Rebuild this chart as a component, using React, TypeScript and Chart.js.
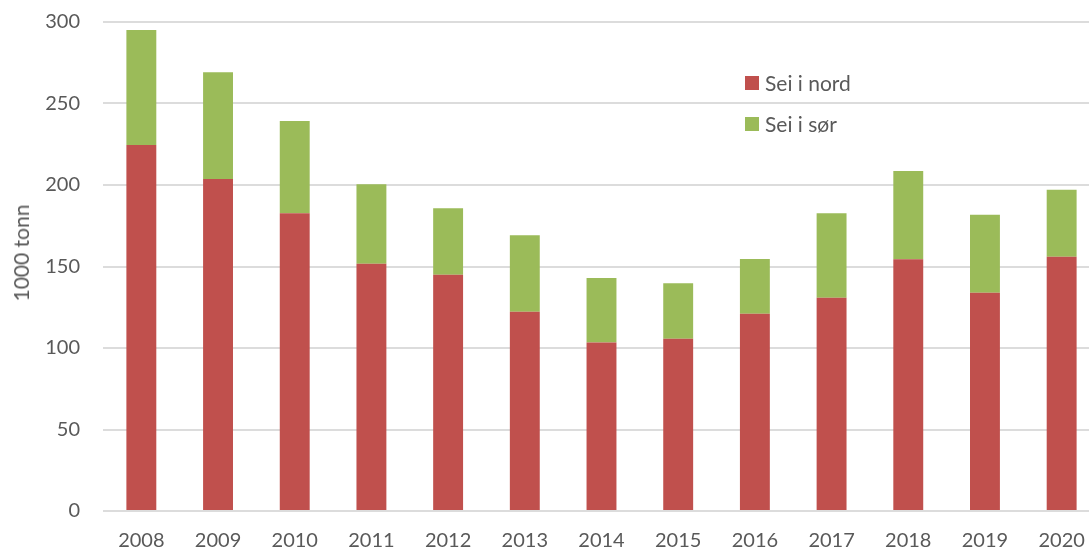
import React, { useEffect, useRef } from "react";
import { Chart, registerables } from "chart.js";

Chart.register(...registerables);

const years = ["2008", "2009", "2010", "2011", "2012", "2013", "2014", "2015", "2016", "2017", "2018", "2019", "2020"];
const seiNord = [224.5, 203.7, 182.6, 151.7, 145.0, 122.3, 103.3, 105.7, 121.0, 130.9, 154.4, 133.9, 156.0];
const seiSor = [70.6, 65.4, 56.7, 48.7, 40.7, 46.8, 39.7, 34.0, 33.6, 51.7, 54.2, 47.9, 41.1];
const seriesNames = ["Sei i nord", "Sei i sør"];
const seriesColors = ["#C0504D", "#9BBB59"];
const yTitle = "1000 tonn";

const FONT = "Lato, 'Open Sans', sans-serif";
const TEXT = "#595959";

export default function App() {
  const ref = useRef<HTMLCanvasElement | null>(null);

  useEffect(() => {
    if (!ref.current) return;
    const chart = new Chart(ref.current, {
      type: "bar",
      data: {
        labels: years,
        datasets: [
          { label: seriesNames[0], data: seiNord, backgroundColor: seriesColors[0], borderWidth: 0, barPercentage: 0.39, categoryPercentage: 1 },
          { label: seriesNames[1], data: seiSor, backgroundColor: seriesColors[1], borderWidth: 0, barPercentage: 0.39, categoryPercentage: 1 },
        ],
      },
      options: {
        responsive: false,
        animation: false,
        layout: { padding: { top: 22, right: 0, bottom: 0, left: 0 } },
        plugins: { legend: { display: false }, tooltip: { enabled: false } },
        scales: {
          x: {
            stacked: true,
            grid: { display: false, drawTicks: false },
            border: { display: false },
            ticks: { color: TEXT, font: { family: FONT, size: 20 }, padding: 18, maxRotation: 0, autoSkip: false },
            afterFit: (s: any) => { s.height = 40; s.paddingLeft = 0; s.paddingRight = 0; },
          },
          y: {
            stacked: true,
            min: 0,
            max: 300,
            ticks: { stepSize: 50, color: TEXT, font: { family: FONT, size: 20 }, padding: 23 },
            grid: { color: "#DCDCDC", lineWidth: 2, drawTicks: false },
            border: { display: false },
            afterFit: (s: any) => { s.width = 103; s.paddingTop = 0; s.paddingBottom = 0; },
          },
        },
      },
    });
    return () => chart.destroy();
  }, []);

  const legendItem = (i: number, top: number) => (
    <div style={{ position: "absolute", left: 745, top, display: "flex", alignItems: "center", fontFamily: FONT, fontSize: 21, color: TEXT, lineHeight: "24px", whiteSpace: "nowrap" }}>
      <span style={{ display: "inline-block", width: 14, height: 14, background: seriesColors[i], marginRight: 6 }} />
      <span>{seriesNames[i]}</span>
    </div>
  );

  return (
    <div style={{ position: "fixed", left: 0, top: 0, width: 1089, height: 551, overflow: "hidden", background: "#fff" }}>
      <div style={{ position: "relative", width: 1100, height: 551 }}>
        <canvas ref={ref} width={1100} height={551} style={{ display: "block" }} />
        <div style={{ position: "absolute", left: 21, top: 253, transform: "translate(-50%, -50%) rotate(-90deg)", fontFamily: FONT, fontSize: 21, color: TEXT, lineHeight: "24px", whiteSpace: "nowrap" }}>
          {yTitle}
        </div>
        {legendItem(0, 71)}
        {legendItem(1, 112)}
      </div>
    </div>
  );
}
